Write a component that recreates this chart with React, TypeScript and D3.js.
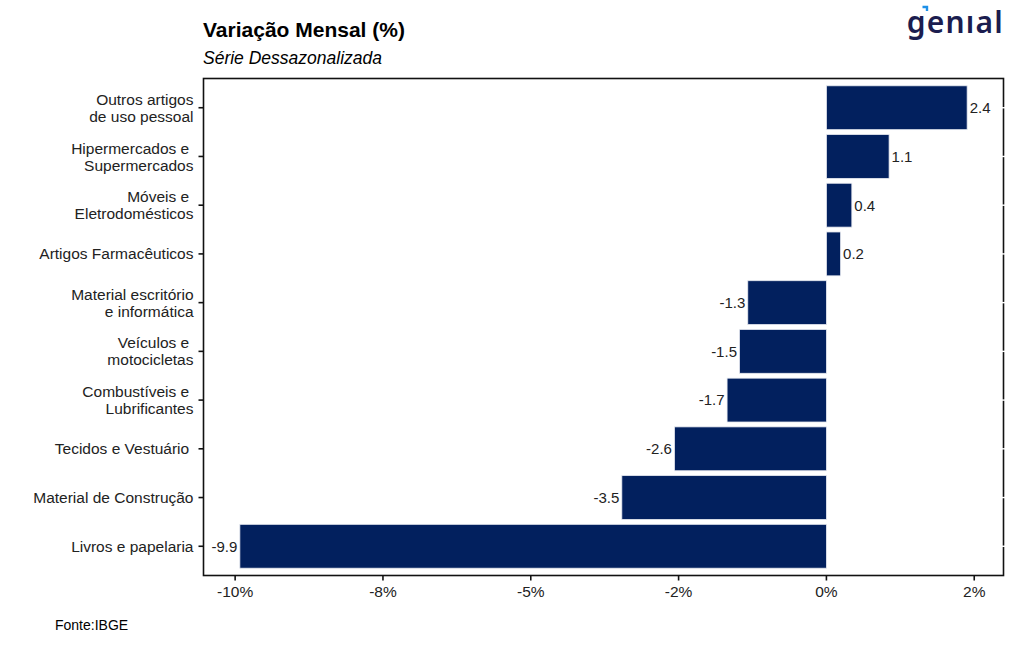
import { useRef, useEffect } from "react";
import * as d3 from "d3";

// Categories top to bottom, as they appear on the chart
const categories: string[][] = [
  ["Outros artigos", "de uso pessoal"],
  ["Hipermercados e ", "Supermercados"],
  ["Móveis e ", "Eletrodomésticos"],
  ["Artigos Farmacêuticos"],
  ["Material escritório", "e informática"],
  ["Veículos e ", "motocicletas"],
  ["Combustíveis e ", "Lubrificantes"],
  ["Tecidos e Vestuário "],
  ["Material de Construção"],
  ["Livros e papelaria"],
];

// Monthly change (%), seasonally adjusted
const values: number[] = [2.38, 1.06, 0.43, 0.24, -1.33, -1.47, -1.68, -2.57, -3.46, -9.92];

const xTicks: number[] = [-10, -7.5, -5, -2.5, 0, 2.5];
const xTickLabels: string[] = ["-10%", "-8%", "-5%", "-2%", "0%", "2%"];

const W = 1024;
const H = 652;
const FONT = "'Liberation Sans', Arial, Helvetica, sans-serif";
const BAR_COLOR = "#02205e";

export default function App() {
  const svgRef = useRef<SVGSVGElement>(null);

  useEffect(() => {
    if (!svgRef.current) return;
    const svg = d3.select(svgRef.current);
    svg.selectAll("*").remove();

    const panel = { left: 203.5, right: 1003.5, top: 78.5, bottom: 575.5 };

    // ggplot-like 5% expansion of the data range
    const [lo, hi] = d3.extent(values) as [number, number];
    const pad = (hi - lo) * 0.05;
    const x = d3
      .scaleLinear()
      .domain([lo - pad, hi + pad])
      .range([panel.left, panel.right]);

    const keys = categories.map((c) => c.join(" "));
    const y = d3
      .scaleBand<string>()
      .domain(keys)
      .range([panel.top, panel.bottom])
      .paddingInner(0.1)
      .paddingOuter(0.15);

    const rows = keys.map((k, i) => ({ key: k, lines: categories[i], value: values[i] }));

    // Title block
    svg
      .append("text")
      .attr("x", 203)
      .attr("y", 36.5)
      .attr("font-family", FONT)
      .attr("font-size", 21)
      .attr("font-weight", "bold")
      .attr("fill", "#000")
      .text("Variação Mensal (%)");

    svg
      .append("text")
      .attr("x", 203)
      .attr("y", 63.5)
      .attr("font-family", FONT)
      .attr("font-size", 17.5)
      .attr("font-style", "italic")
      .attr("fill", "#000")
      .text("Série Dessazonalizada");

    // Logo
    const logo = svg.append("g");
    logo
      .append("text")
      .attr("x", 1004)
      .attr("y", 32.5)
      .attr("text-anchor", "end")
      .attr("font-family", "'Noto Sans', Inter, sans-serif")
      .attr("font-size", 30)
      .attr("font-weight", 600)
      .attr("letter-spacing", 1.2)
      .attr("fill", "#1b1d4f")
      .text("genıal");
    logo
      .append("path")
      .attr("d", "M922.5,7 H927 V11")
      .attr("fill", "none")
      .attr("stroke", "#1e90e8")
      .attr("stroke-width", 2.4);

    // Bars
    svg
      .append("g")
      .selectAll("rect")
      .data(rows)
      .enter()
      .append("rect")
      .attr("x", (d) => x(Math.min(0, d.value)))
      .attr("width", (d) => Math.abs(x(d.value) - x(0)))
      .attr("y", (d) => y(d.key) || 0)
      .attr("height", y.bandwidth())
      .attr("fill", BAR_COLOR)
      .attr("stroke", "#e6e9f0")
      .attr("stroke-width", 0.8);

    // Value labels
    svg
      .append("g")
      .selectAll("text")
      .data(rows)
      .enter()
      .append("text")
      .attr("x", (d) => (d.value >= 0 ? x(d.value) + 2.5 : x(d.value) - 2.5))
      .attr("y", (d) => (y(d.key) || 0) + y.bandwidth() / 2)
      .attr("dy", "0.36em")
      .attr("text-anchor", (d) => (d.value >= 0 ? "start" : "end"))
      .attr("font-family", FONT)
      .attr("font-size", 15)
      .attr("fill", "#222")
      .text((d) => d.value.toFixed(1));

    // Panel border
    svg
      .append("rect")
      .attr("x", panel.left)
      .attr("y", panel.top)
      .attr("width", panel.right - panel.left)
      .attr("height", panel.bottom - panel.top)
      .attr("fill", "none")
      .attr("stroke", "#111")
      .attr("stroke-width", 1.6);

    // White marks crossing the right border
    svg
      .append("g")
      .selectAll("line")
      .data(rows)
      .enter()
      .append("line")
      .attr("x1", panel.right - 3)
      .attr("x2", panel.right + 3)
      .attr("y1", (d) => (y(d.key) || 0) + y.bandwidth() / 2)
      .attr("y2", (d) => (y(d.key) || 0) + y.bandwidth() / 2)
      .attr("stroke", "#fff")
      .attr("stroke-width", 1.4);

    // Y axis ticks and labels
    const yAxis = svg.append("g");
    rows.forEach((d) => {
      const cy = (y(d.key) || 0) + y.bandwidth() / 2;
      yAxis
        .append("line")
        .attr("x1", panel.left - 5)
        .attr("x2", panel.left)
        .attr("y1", cy)
        .attr("y2", cy)
        .attr("stroke", "#111")
        .attr("stroke-width", 1.6);
      const t = yAxis
        .append("text")
        .attr("x", 193.5)
        .attr("y", cy)
        .attr("text-anchor", "end")
        .attr("font-family", FONT)
        .attr("font-size", 15.5)
        .attr("fill", "#222")
        .style("white-space", "pre");
      const n = d.lines.length;
      d.lines.forEach((line, j) => {
        t.append("tspan")
          .attr("x", 193.5)
          .attr("y", cy + (j - (n - 1) / 2) * 17)
          .attr("dy", "0.36em")
          .text(line);
      });
    });

    // X axis ticks and labels
    const xAxis = svg.append("g");
    xTicks.forEach((v, i) => {
      xAxis
        .append("line")
        .attr("x1", x(v))
        .attr("x2", x(v))
        .attr("y1", panel.bottom)
        .attr("y2", panel.bottom + 5)
        .attr("stroke", "#111")
        .attr("stroke-width", 1.6);
      xAxis
        .append("text")
        .attr("x", x(v))
        .attr("y", 597)
        .attr("text-anchor", "middle")
        .attr("font-family", FONT)
        .attr("font-size", 15.5)
        .attr("fill", "#222")
        .text(xTickLabels[i]);
    });

    // Source
    svg
      .append("text")
      .attr("x", 55)
      .attr("y", 630)
      .attr("font-family", FONT)
      .attr("font-size", 14)
      .attr("fill", "#000")
      .text("Fonte:IBGE");
  }, []);

  return (
    <svg
      ref={svgRef}
      width={W}
      height={H}
      style={{ position: "absolute", left: 0, top: 0, background: "#fff" }}
    />
  );
}
